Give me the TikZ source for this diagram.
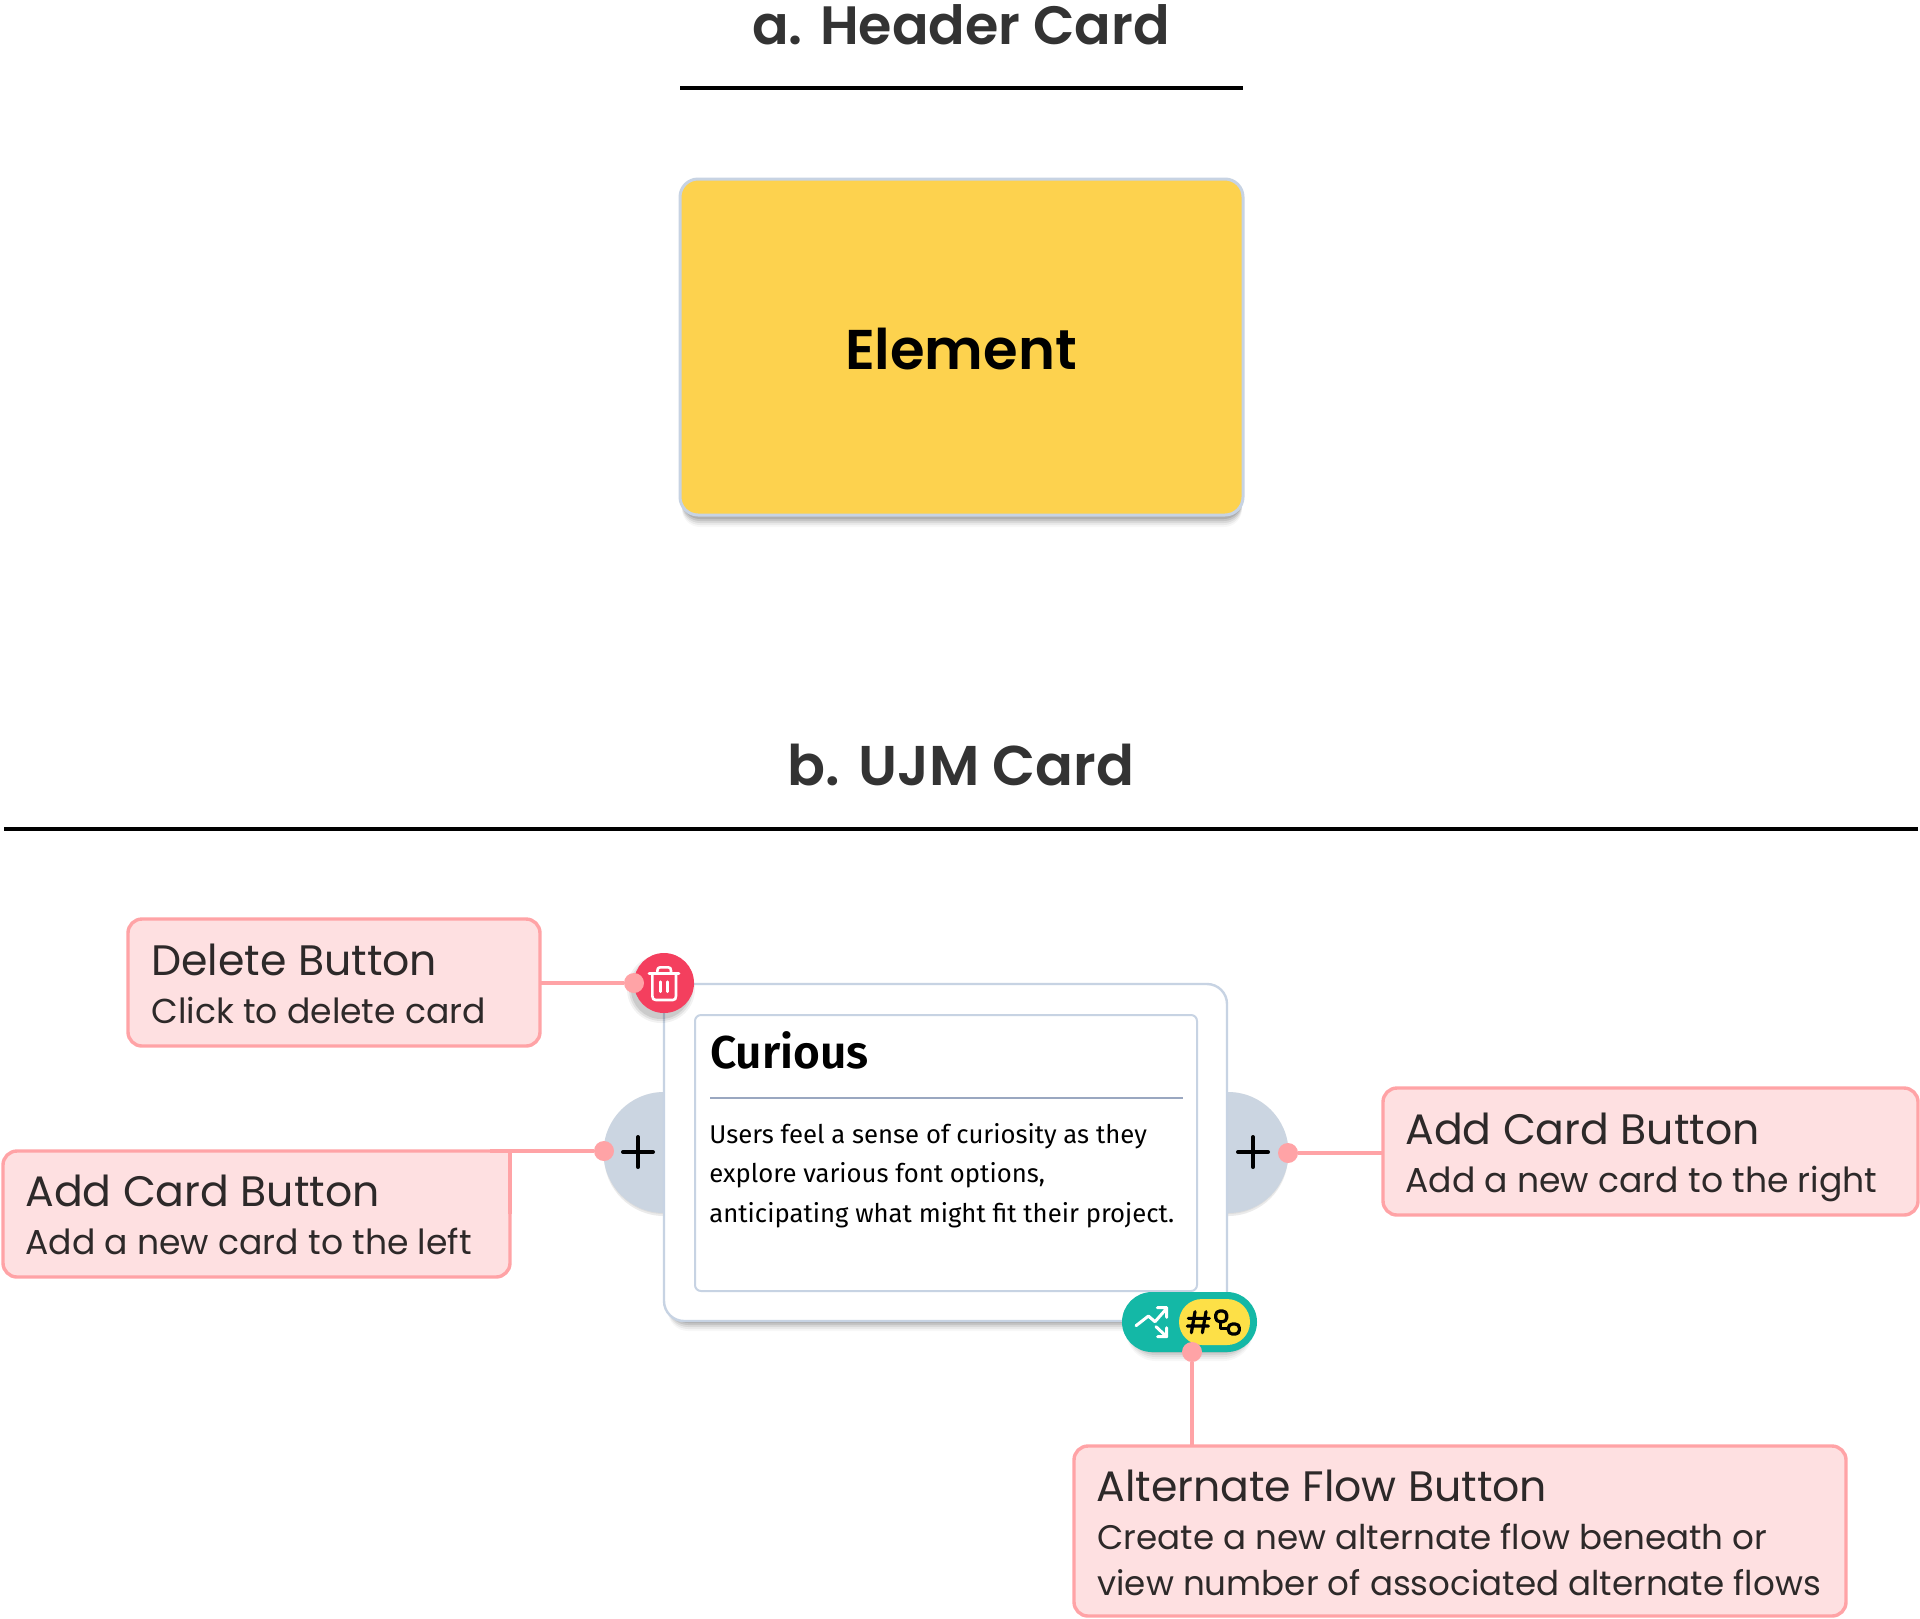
\documentclass[tikz,border=0pt]{standalone}
\usepackage{fontspec}
\setmainfont{Poppins}
\newfontfamily\popsemi{Poppins SemiBold}
\newfontfamily\plex{Fira Sans}
\newfontfamily\plexsemi{Fira Sans SemiBold}
\definecolor{ink}{HTML}{333333}
\definecolor{lbl}{HTML}{2D2929}
\definecolor{pinkb}{HTML}{FFA3A6}
\definecolor{pinkf}{HTML}{FEE0E1}
\definecolor{slatel}{HTML}{CBD5E1}
\definecolor{edge}{HTML}{C7D3E3}
\definecolor{gold}{HTML}{FDD24E}
\definecolor{teal1}{HTML}{14B8A6}
\definecolor{yel}{HTML}{FDE047}
\definecolor{rosey}{HTML}{F43F5E}
\definecolor{hr}{HTML}{9AA7C0}
\tikzset{
 x=0.5pt,y=-0.5pt,
 callout/.style={draw=pinkb,fill=pinkf,line width=1.7pt,rounded corners=7pt,anchor=north west,inner sep=0pt,outer sep=0pt},
 dotp/.style={circle,fill=pinkb,minimum size=10pt,inner sep=0pt,outer sep=0pt},
 link/.style={draw=pinkb,line width=1.7pt},
 ttl/.style={anchor=base,text=ink,inner sep=0pt},
 lblA/.style={anchor=base west,text=lbl,inner sep=0pt,font=\fontsize{21.3}{23}\selectfont},
 lblB/.style={anchor=base west,text=lbl,inner sep=0pt,font=\fontsize{17.3}{19}\selectfont},
 lblC/.style={anchor=base west,text=lbl,inner sep=0pt,font=\fontsize{17.05}{19}\selectfont},
 bodyt/.style={anchor=base west,inner sep=0pt,font=\plex\fontsize{12.85}{15}\selectfont,text=black},
 rule/.style={draw=black,line width=1.8pt},
}
\begin{document}
\begin{tikzpicture}
\useasboundingbox (0,0) rectangle (1920,1618);
\fill[white] (0,0) rectangle (1920,1618);
% section a
\node[ttl,font=\popsemi\fontsize{27}{30}\selectfont] (ta) at (961,44) {a. Header Card};
\coordinate (ra1) at (680,88); \coordinate (ra2) at (1243,88);
\draw[rule] (ra1) -- (ra2);
\foreach \d/\o in {11/0.03,9/0.05,7/0.07,5/0.09,3/0.11}{
 \fill[black,opacity=\o,rounded corners=9pt] (682,184) rectangle (1242,516+\d);
}
\node[draw=edge,fill=gold,line width=1.5pt,rounded corners=9pt,anchor=north west,outer sep=0pt,minimum width=281.5pt,minimum height=168pt] (elem) at (680,179) {};
\node[anchor=base,inner sep=0pt,font=\popsemi\fontsize{28}{30}\selectfont,text=black] (elemt) at (961,369) {Element};
% section b
\node[ttl,font=\popsemi\fontsize{28}{30}\selectfont] (tb) at (961,785) {b. UJM Card};
\coordinate (rb1) at (4,829); \coordinate (rb2) at (1918,829);
\draw[rule] (rb1) -- (rb2);
% add buttons
\foreach \d/\o in {5/0.04,3/0.06,1/0.08}{
 \fill[black,opacity=\o] (664,1097-\d) arc[start angle=270,end angle=90,radius=60] -- cycle;
 \fill[black,opacity=\o] (1228,1097-\d) arc[start angle=270,end angle=450,radius=60] -- cycle;
}
\fill[slatel] (664,1092) arc[start angle=270,end angle=90,radius=60.5] -- cycle;
\fill[slatel] (1228,1092) arc[start angle=270,end angle=450,radius=60.5] -- cycle;
% card
\foreach \d/\o in {11/0.03,9/0.05,7/0.07,5/0.09,3/0.11}{
 \fill[black,opacity=\o,rounded corners=10pt] (668,1000) rectangle (1224,1320+\d);
}
\node[draw=edge,fill=white,line width=1.2pt,rounded corners=10pt,anchor=north west,outer sep=0pt,minimum width=281.5pt,minimum height=168.5pt] (card) at (664,984) {};
\node[draw=edge,fill=white,line width=1pt,rounded corners=3pt,anchor=north west,outer sep=0pt,minimum width=251pt,minimum height=138pt] (inner) at (695,1015) {};
\node[anchor=base west,inner sep=0pt,font=\plexsemi\fontsize{23}{25}\selectfont,text=black] (cur) at (710,1068) {Curious};
\coordinate (hr1) at (710,1098); \coordinate (hr2) at (1183,1098);
\draw[hr,line width=1pt] (hr1) -- (hr2);
\node[bodyt] (b1) at (709,1143) {Users feel a sense of curiosity as they};
\node[bodyt] (b2) at (709,1182) {explore various font options,};
\node[bodyt] (b3) at (709,1222) {anticipating what might fit their project.};
% plus
\draw[black,line width=2pt,line cap=round] (623,1152) -- (653,1152) (638,1137) -- (638,1167);
\draw[black,line width=2pt,line cap=round] (1238,1152) -- (1268,1152) (1253,1137) -- (1253,1167);
% trash
\foreach \d/\o in {5/0.05,3/0.07,1/0.09}{
 \fill[black,opacity=\o] (661,989) circle[radius=29+\d];
}
\fill[rosey] (664,983) circle[radius=30];
\begin{scope}[shift={(600,930)},x=0.1667pt,y=-0.1667pt,draw=white,line width=1.3pt,line cap=round,line join=round]
 \draw (147,130) -- (237,130);
 \draw (172,130) -- (172,122) .. controls (172,115) and (175,112) .. (180,112) -- (205,112) .. controls (210,112) and (213,115) .. (213,122) -- (213,130);
 \draw (157,130) -- (157,198) .. controls (157,206) and (160,210) .. (168,210) -- (218,210) .. controls (225,210) and (228,206) .. (228,198) -- (228,130);
 \draw (181,155) -- (181,185) (203,155) -- (203,185);
\end{scope}
% pill
\foreach \d/\o in {9/0.03,7/0.04,5/0.05,3/0.07,1/0.08}{
 \fill[black,opacity=\o,rounded corners=15pt] (1126,1296) rectangle (1253,1352+\d);
}
\fill[teal1,rounded corners=15pt] (1122,1292) rectangle (1257,1352);
\fill[yel,rounded corners=11.5pt] (1179,1299) rectangle (1250,1345);
\begin{scope}[shift={(1080,1260)},x=0.1667pt,y=-0.1667pt,line cap=round,line join=round]
 \draw[white,line width=1.5pt] (168,197) -- (205,168) -- (225,185) -- (260,145) (232,143) -- (260,143) -- (260,172);
 \draw[white,line width=1.5pt] (228,200) -- (260,230) (260,203) -- (260,230) -- (233,230);
 \draw[black,line width=1.6pt] (345,155) -- (334,218) (378,155) -- (367,218) (325,175) -- (388,175) (322,198) -- (385,198);
 \draw[black,line width=1.6pt,rounded corners=2pt] (407,153) rectangle (440,185) (445,192) rectangle (478,222);
 \draw[black,line width=1.6pt] (422,185) -- (422,205) -- (445,205);
\end{scope}
% callouts
\node[callout,minimum width=206pt,minimum height=63.5pt] (del) at (128,919) {};
\node[lblA] (delA) at (151,975) {Delete Button};
\node[lblB] (delB) at (151,1023) {Click to delete card};
\node[dotp] (delD) at (634,983) {};
\draw[link] (del.east |- delD) -- (delD);
\node[callout,minimum width=253.5pt,minimum height=63pt] (addl) at (3,1151) {};
\fill[pinkf] (addl.north east) -- ++(-20,0) -- ++(0,20) -- ++(20,0) -- cycle;
\node[lblA] (addlA) at (25,1206) {Add Card Button};
\node[lblB] (addlB) at (25,1254) {Add a new card to the left};
\node[dotp] (addlD) at (604,1151) {};
\draw[link] (addl.north east) ++(-20,0) -- (addlD);
\draw[link] (addl.east) -- (addl.north east);
\node[callout,minimum width=267.5pt,minimum height=63.5pt] (addr) at (1383,1088) {};
\node[lblA] (addrA) at (1405,1144) {Add Card Button};
\node[lblB] (addrB) at (1405,1192) {Add a new card to the right};
\node[dotp] (addrD) at (1288,1153) {};
\draw[link] (addr.west |- addrD) -- (addrD);
\node[callout,minimum width=386pt,minimum height=85pt] (alt) at (1074,1446) {};
\node[lblA] (altA) at (1096,1501) {Alternate Flow Button};
\node[lblC] (altB) at (1097,1549) {Create a new alternate flow beneath or};
\node[lblC] (altC) at (1097,1595) {view number of associated alternate flows};
\node[dotp] (altD) at (1192,1352) {};
\draw[link] (altD) -- (alt.north -| altD);
\end{tikzpicture}
\end{document}
